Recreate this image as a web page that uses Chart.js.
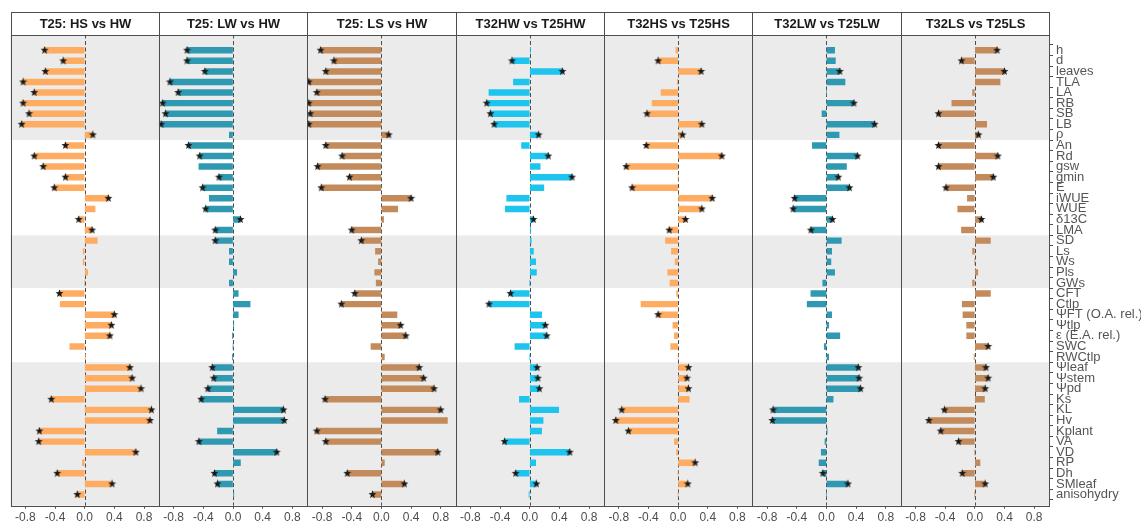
<!DOCTYPE html>
<html>
<head>
<meta charset="utf-8">
<script src="https://cdn.jsdelivr.net/npm/chart.js@4.4.1/dist/chart.umd.min.js"></script>
<style>
  html, body { margin: 0; padding: 0; background: #ffffff; }
  canvas { display: block; }
</style>
</head>
<body>
<canvas id="chart" width="1141" height="524"></canvas>
<script>
// Traits, top to bottom
const traits = ['h', 'd', 'leaves', 'TLA', 'LA', 'RB', 'SB', 'LB', 'ρ',
  'An', 'Rd', 'gsw', 'gmin', 'E', 'iWUE', 'WUE', 'δ13C', 'LMA',
  'SD', 'Ls', 'Ws', 'Pls', 'GWs',
  'CFT', 'Ctlp', 'ΨFT (O.A. rel.)', 'Ψtlp', 'ε (E.A. rel.)', 'SWC', 'RWCtlp',
  'Ψleaf', 'Ψstem', 'Ψpd', 'Ks', 'KL', 'Hv', 'Kplant', 'VA', 'VD', 'RP', 'Dh', 'SMleaf', 'anisohydry'];

// Number of traits in each trait group (alternating shaded / plain bands)
const groupSizes = [9, 9, 5, 7, 13];

const comparisons = ['T25: HS vs HW', 'T25: LW vs HW', 'T25: LS vs HW',
  'T32HW vs T25HW', 'T32HS vs T25HS', 'T32LW vs T25LW', 'T32LS vs T25LS'];

const xTickValues = [-0.8, -0.4, 0, 0.4, 0.8];

// Effect sizes per comparison
const t25HsVsHw = [-0.54, -0.29, -0.53, -0.83, -0.68, -0.83, -0.75, -0.85, 0.11,
  -0.26, -0.68, -0.56, -0.26, -0.41, 0.32, 0.14, -0.08, 0.10,
  0.17, -0.02, -0.02, 0.04, 0.00,
  -0.34, -0.33, 0.40, 0.36, 0.34, -0.20, 0.01,
  0.61, 0.64, 0.76, -0.45, 0.90, 0.88, -0.61, -0.62, 0.69, -0.03, -0.37, 0.37, -0.10];
const t25LwVsHw = [-0.62, -0.62, -0.38, -0.85, -0.74, -0.95, -0.91, -0.97, -0.05,
  -0.60, -0.45, -0.46, -0.19, -0.41, -0.32, -0.37, 0.10, -0.24,
  -0.24, -0.05, -0.05, 0.05, -0.05,
  0.07, 0.23, 0.07, 0.01, -0.01, 0.00, -0.01,
  -0.28, -0.26, -0.34, -0.43, 0.68, 0.69, -0.21, -0.46, 0.59, 0.10, -0.25, -0.21, 0.01];
const t25LsVsHw = [-0.82, -0.64, -0.75, -0.98, -0.87, -0.98, -0.96, -0.98, 0.10,
  -0.75, -0.53, -0.86, -0.43, -0.81, 0.40, 0.22, 0.03, -0.40,
  -0.27, -0.08, -0.04, -0.09, -0.07,
  -0.36, -0.54, 0.21, 0.26, 0.33, -0.14, 0.04,
  0.51, 0.57, 0.71, -0.76, 0.80, 0.89, -0.87, -0.75, 0.76, 0.04, -0.46, 0.31, -0.12];
const t32HwVsT25Hw = [0.01, -0.24, 0.44, -0.22, -0.55, -0.58, -0.53, -0.48, 0.12,
  -0.11, 0.25, 0.14, 0.57, 0.19, -0.31, -0.33, 0.05, 0.01,
  0.02, 0.05, 0.08, 0.09, 0.00,
  -0.26, -0.55, 0.16, 0.21, 0.23, -0.20, 0.00,
  0.10, 0.11, 0.13, -0.14, 0.39, 0.18, 0.16, -0.34, 0.54, 0.08, -0.19, 0.09, -0.01];
const t32HsVsT25Hs = [-0.03, -0.27, 0.31, -0.01, -0.23, -0.35, -0.42, 0.32, 0.06,
  -0.43, 0.59, -0.70, 0.00, -0.62, 0.46, 0.32, 0.10, -0.12,
  -0.17, -0.09, -0.04, -0.14, -0.11,
  -0.02, -0.50, -0.27, -0.07, -0.05, -0.10, 0.00,
  0.14, 0.12, 0.14, 0.15, -0.76, -0.84, -0.67, -0.05, -0.02, 0.23, 0.00, 0.13, 0.00];
const t32LwVsT25Lw = [0.11, 0.12, 0.18, 0.25, 0.00, 0.37, -0.06, 0.65, 0.17,
  -0.19, 0.42, 0.27, 0.16, 0.31, -0.43, -0.45, 0.08, -0.21,
  0.20, 0.07, 0.06, 0.11, -0.05,
  -0.21, -0.26, 0.07, 0.03, 0.18, -0.03, 0.03,
  0.43, 0.44, 0.46, 0.09, -0.72, -0.73, 0.01, -0.02, -0.07, -0.10, -0.05, 0.29, 0.00];
const t32LsVsT25Ls = [0.30, -0.18, 0.40, 0.34, -0.03, -0.31, -0.49, 0.16, 0.05,
  -0.49, 0.31, -0.49, 0.25, -0.39, -0.10, -0.23, 0.09, -0.18,
  0.21, -0.03, 0.00, 0.04, -0.03,
  0.21, -0.17, -0.16, -0.11, -0.11, 0.18, -0.01,
  0.15, 0.18, 0.14, 0.13, -0.41, -0.62, -0.46, -0.22, 0.00, 0.07, -0.17, 0.14, 0.00];

// Significance flags (1 = significant, marked with a star)
const sigT25HsVsHw = [1,1,1,1,1,1,1,1,1, 1,1,1,1,1,1,0,1,1, 0,0,0,0,0, 1,0,1,1,1,0,0, 1,1,1,1,1,1,1,1,1,0,1,1,1];
const sigT25LwVsHw = [1,1,1,1,1,1,1,1,0, 1,1,0,1,1,0,1,1,1, 1,0,0,0,0, 0,0,0,0,0,0,0, 1,1,1,1,1,1,0,1,1,0,1,1,0];
const sigT25LsVsHw = [1,1,1,1,1,1,1,1,1, 1,1,1,1,1,1,0,0,1, 1,0,0,0,0, 1,1,0,1,1,0,0, 1,1,1,1,1,0,1,1,1,0,1,1,1];
const sigT32HwVsT25Hw = [0,1,1,0,0,1,1,1,1, 0,1,0,1,0,0,0,1,0, 0,0,0,0,0, 1,1,0,1,1,0,0, 1,1,1,0,0,0,0,1,1,0,1,1,0];
const sigT32HsVsT25Hs = [0,1,1,0,0,0,1,1,1, 1,1,1,0,1,1,1,1,1, 0,0,0,0,0, 0,0,1,0,0,0,0, 1,1,1,0,1,1,1,0,0,1,0,1,0];
const sigT32LwVsT25Lw = [0,0,1,0,0,1,0,1,0, 0,1,0,1,1,1,1,1,1, 0,0,0,0,0, 0,0,0,0,0,0,0, 1,1,1,0,1,1,0,0,0,0,1,1,0];
const sigT32LsVsT25Ls = [1,1,1,0,0,0,1,0,1, 1,1,1,1,1,0,0,1,0, 0,0,0,0,0, 0,0,0,0,0,1,0, 1,1,1,0,1,1,1,1,0,0,1,1,0];

const panelValues = [t25HsVsHw, t25LwVsHw, t25LsVsHw, t32HwVsT25Hw, t32HsVsT25Hs, t32LwVsT25Lw, t32LsVsT25Ls];
const panelSig = [sigT25HsVsHw, sigT25LwVsHw, sigT25LsVsHw, sigT32HwVsT25Hw, sigT32HsVsT25Hs, sigT32LwVsT25Lw, sigT32LsVsT25Ls];
const panelColors = ['#FDAC62', '#2F99B1', '#C38B5B', '#1DC4EE', '#FDAC62', '#2F99B1', '#C38B5B'];

// Filled five-point star used as the significance marker
function makeStar(size, color) {
  const c = document.createElement('canvas');
  c.width = size; c.height = size;
  const g = c.getContext('2d');
  const cx = size / 2, cy = size / 2, ro = size / 2 - 0.3, ri = ro * 0.42;
  g.beginPath();
  for (let k = 0; k < 10; k++) {
    const r = k % 2 === 0 ? ro : ri;
    const a = -Math.PI / 2 + k * Math.PI / 5;
    const px = cx + r * Math.cos(a), py = cy + r * Math.sin(a);
    if (k === 0) g.moveTo(px, py); else g.lineTo(px, py);
  }
  g.closePath();
  g.fillStyle = color;
  g.fill();
  return c;
}
const starMarker = makeStar(9, '#1a1a1a');

const FONT = '"Liberation Sans", Arial, Helvetica, sans-serif';
const GRID_DARK = '#4d4d4d';

const datasets = [];
panelValues.forEach((vals, i) => {
  datasets.push({
    type: 'scatter',
    xAxisID: 'x' + i,
    yAxisID: 'y',
    order: 0,
    data: vals.map((v, k) => panelSig[i][k] ? { x: v, y: k } : null).filter(p => p),
    pointStyle: starMarker,
    pointRadius: 4,
    showLine: false
  });
  datasets.push({
    type: 'bar',
    xAxisID: 'x' + i,
    yAxisID: 'y',
    order: 1,
    data: vals.map((v, k) => ({ x: v, y: k })),
    backgroundColor: panelColors[i],
    borderWidth: 0,
    barThickness: 5.8,
    grouped: false
  });
});

const scales = {};
panelValues.forEach((_, i) => {
  scales['x' + i] = {
    type: 'linear',
    axis: 'x',
    position: 'bottom',
    stack: 'panels',
    stackWeight: 1,
    min: -1,
    max: 1,
    afterBuildTicks: s => { s.ticks = xTickValues.map(v => ({ value: v })); },
    afterFit: s => { s.height = 18.3; },
    grid: { drawOnChartArea: false, tickLength: 3, color: GRID_DARK, lineWidth: 1 },
    border: { display: false },
    ticks: {
      autoSkip: false, maxRotation: 0, padding: 2,
      color: '#4d4d4d', font: { family: FONT, size: 12 },
      callback: v => Number(v).toFixed(1)
    }
  };
});
scales.y = {
  type: 'linear',
  position: 'right',
  reverse: true,
  min: -0.97,
  max: 42.54,
  afterBuildTicks: s => { s.ticks = traits.map((_, k) => ({ value: k })); },
  afterFit: s => { s.width = 92; },
  grid: { drawOnChartArea: false, tickLength: 4, color: GRID_DARK, lineWidth: 1 },
  border: { display: false },
  ticks: {
    autoSkip: false, padding: 3,
    color: '#555555', font: { family: FONT, size: 13 },
    callback: v => traits[v]
  }
};

// Shaded trait bands, zero reference lines, panel frames and strip titles
const facetPlugin = {
  id: 'facets',
  beforeDatasetsDraw(chart) {
    const { ctx, chartArea } = chart;
    const y = chart.scales.y;
    ctx.save();
    let start = 0;
    groupSizes.forEach((n, gi) => {
      const top = gi === 0 ? chartArea.top : y.getPixelForValue(start - 0.5);
      const bottom = gi === groupSizes.length - 1 ? chartArea.bottom : y.getPixelForValue(start + n - 0.5);
      ctx.fillStyle = gi % 2 === 0 ? '#EBEBEB' : '#FFFFFF';
      ctx.fillRect(chartArea.left, top, chartArea.right - chartArea.left, bottom - top);
      start += n;
    });
    ctx.strokeStyle = '#4d4d4d';
    ctx.lineWidth = 1;
    ctx.setLineDash([4, 2.5]);
    panelValues.forEach((_, i) => {
      const xs = chart.scales['x' + i];
      const x0 = Math.round(xs.getPixelForValue(0)) + 0.5;
      ctx.beginPath();
      ctx.moveTo(x0, chartArea.top);
      ctx.lineTo(x0, chartArea.bottom);
      ctx.stroke();
    });
    ctx.restore();
  },
  afterDatasetsDraw(chart) {
    const { ctx, chartArea } = chart;
    ctx.save();
    ctx.strokeStyle = GRID_DARK;
    ctx.lineWidth = 1;
    const stripTop = 12.5;
    panelValues.forEach((_, i) => {
      const xs = chart.scales['x' + i];
      const l = Math.round(xs.left) + 0.5, r = Math.round(xs.right) + 0.5;
      const t = Math.round(chartArea.top) + 0.5, b = Math.round(chartArea.bottom) + 0.5;
      ctx.strokeRect(l, t, r - l, b - t);
      ctx.fillStyle = '#ffffff';
      ctx.fillRect(l, stripTop, r - l, t - stripTop);
      ctx.strokeRect(l, stripTop, r - l, t - stripTop);
      ctx.fillStyle = '#1a1a1a';
      ctx.font = 'bold 13px ' + FONT;
      ctx.textAlign = 'center';
      ctx.textBaseline = 'middle';
      ctx.fillText(comparisons[i], (l + r) / 2, (stripTop + t) / 2 + 0.5);
    });
    ctx.restore();
  }
};

new Chart(document.getElementById('chart'), {
  data: { datasets },
  options: {
    indexAxis: 'y',
    responsive: false,
    animation: false,
    events: [],
    devicePixelRatio: 1,
    layout: { padding: { left: 10.5, top: 34.5, right: 0, bottom: 0 } },
    plugins: { legend: { display: false }, tooltip: { enabled: false }, title: { display: false } },
    scales
  },
  plugins: [facetPlugin]
});
</script>
</body>
</html>
